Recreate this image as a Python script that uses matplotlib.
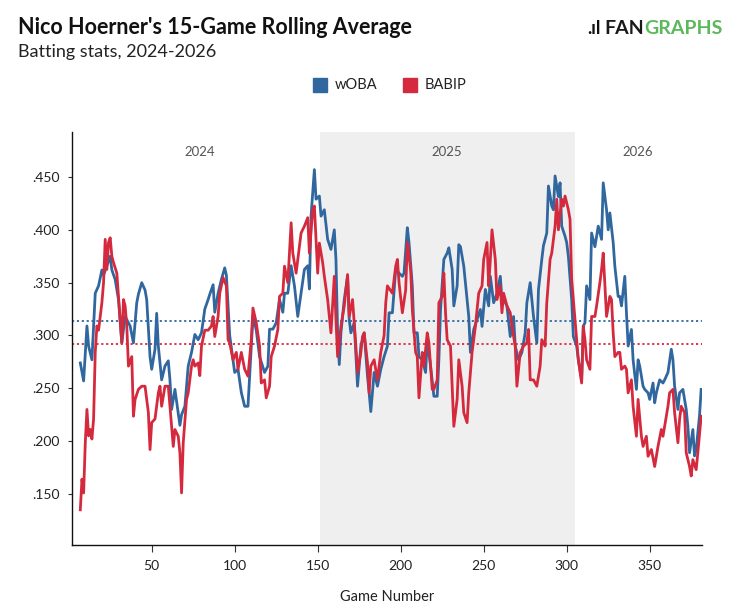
import matplotlib
matplotlib.use("Agg")
import matplotlib.pyplot as plt
from matplotlib.ticker import FuncFormatter
from matplotlib.patches import Rectangle

plt.rcParams['font.family'] = ['Lato', 'DejaVu Sans']

# ---- data ----
woba_games = [7, 9, 11, 12, 14, 16, 18, 20, 21, 23, 25, 26, 28, 30, 32, 34, 35, 37, 39, 41, 42, 44, 46, 47, 49, 50,
              52, 53, 54, 56, 58, 60, 61, 62, 64, 66, 67, 68, 70, 72, 74, 76, 78, 80, 82, 84, 85, 87, 88, 90, 92, 94,
              95, 97, 100, 102, 104, 106, 108, 109, 111, 113, 115, 118, 120, 121, 123, 125, 127, 129, 130, 132, 134,
              136, 138, 140, 142, 144, 145, 146, 148, 149, 151, 152, 154, 156, 158, 160, 161, 162, 163, 164, 166, 168,
              169, 170, 172, 174, 176, 178, 180, 181, 182, 184, 186, 188, 190, 192, 193, 195, 197, 199, 201, 202, 204,
              205, 207, 208, 210, 211, 213, 215, 216, 218, 220, 222, 223, 224, 226, 228, 229, 231, 232, 234, 235, 236,
              238, 240, 241, 242, 244, 246, 248, 249, 251, 253, 254, 256, 258, 260, 261, 263, 264, 266, 268, 269, 271,
              273, 275, 276, 278, 280, 282, 283, 285, 286, 288, 289, 291, 292, 293, 295, 296, 297, 299, 300, 301, 303,
              304, 306, 307, 309, 310, 311, 312, 314, 315, 317, 318, 319, 321, 322, 324, 325, 326, 328, 329, 331, 332,
              333, 335, 336, 337, 339, 340, 342, 343, 344, 346, 347, 349, 350, 352, 353, 354, 356, 358, 359, 361, 363,
              364, 365, 367, 368, 370, 372, 373, 374, 376, 377, 378, 380, 381]
woba = [.274, .257, .309, .290, .277, .340, .347, .362, .357, .366, .375, .362, .353, .334, .293, .318, .315, .309,
        .293, .331, .339, .350, .343, .334, .280, .268, .287, .321, .290, .258, .271, .276, .258, .230, .249, .226,
        .215, .225, .233, .271, .284, .301, .296, .3025, .325, .334, .339, .348, .322, .340, .353, .364, .357, .300,
        .265, .268, .246, .233, .233, .2615, .318, .305, .280, .265, .271, .306, .306, .312, .334, .322, .340, .340,
        .366, .347, .318, .340, .3625, .366, .344, .413, .457, .429, .432, .413, .419, .391, .3815, .400, .372,
        .3025, .2725, .3025, .334, .356, .315, .3025, .312, .252, .290, .3025, .2615, .2457, .228, .265, .252, .268,
        .280, .290, .3215, .3215, .3625, .359, .356, .359, .402, .388, .347, .3025, .3025, .280, .277, .265, .296,
        .271, .2425, .2425, .277, .3246, .372, .378, .383, .3625, .328, .347, .386, .384, .3656, .334, .318, .284,
        .3057, .315, .3246, .3086, .3436, .328, .356, .331, .340, .356, .334, .331, .328, .299, .318, .290, .277,
        .284, .3025, .331, .350, .318, .293, .3435, .372, .385, .397, .4415, .4225, .419, .451, .4315, .4445, .4035,
        .394, .388, .375, .334, .299, .290, .277, .258, .309, .312, .347, .334, .397, .384, .394, .4035, .391, .4445,
        .419, .400, .416, .388, .3656, .337, .337, .328, .356, .3215, .290, .3057, .277, .249, .277, .271, .252,
        .249, .2457, .2395, .255, .2363, .2457, .258, .255, .258, .265, .287, .277, .252, .230, .2457, .249, .230,
        .214, .189, .211, .186, .192, .224, .249]

babip_games = [7, 8, 9, 10, 11, 12, 13, 14, 15, 16, 17, 18, 20, 21, 22, 23, 24, 25, 26, 27, 29, 30, 32, 33, 34, 35,
               36, 38, 39, 40, 42, 44, 46, 48, 49, 50, 52, 54, 55, 56, 58, 60, 62, 63, 64, 66, 67, 68, 69, 71, 72, 74,
               75, 76, 78, 79, 80, 82, 84, 86, 87, 88, 90, 91, 93, 95, 96, 97, 99, 101, 102, 104, 106, 108, 110, 111,
               113, 115, 116, 118, 119, 121, 122, 124, 126, 127, 129, 130, 132, 134, 135, 137, 140, 142, 144, 145,
               147, 148, 150, 151, 153, 154, 156, 158, 160, 161, 162, 164, 166, 168, 169, 171, 173, 174, 176, 177,
               178, 180, 181, 182, 184, 186, 188, 190, 191, 192, 195, 197, 198, 199, 201, 203, 204, 206, 207, 209,
               210, 211, 213, 214, 216, 217, 219, 220, 222, 223, 225, 226, 227, 228, 230, 231, 232, 234, 235, 237,
               238, 240, 241, 243, 245, 247, 249, 250, 252, 253, 254, 255, 257, 258, 260, 261, 262, 264, 266, 267,
               269, 270, 272, 274, 276, 277, 278, 280, 282, 284, 285, 287, 288, 290, 291, 293, 294, 295, 297, 298,
               299, 301, 302, 303, 305, 306, 307, 309, 310, 311, 312, 314, 315, 317, 318, 320, 321, 322, 323, 324,
               326, 327, 328, 329, 331, 332, 333, 335, 336, 337, 339, 340, 342, 343, 345, 346, 348, 349, 351, 353,
               354, 355, 357, 358, 360, 361, 362, 364, 365, 367, 368, 369, 371, 372, 374, 375, 376, 378, 379, 381]
babip = [.135, .164, .151, .1985, .230, .205, .211, .202, .221, .284, .309, .305, .331, .350, .391, .3625, .388,
         .3925, .375, .369, .359, .337, .293, .334, .328, .309, .271, .280, .2236, .2395, .249, .252, .252, .227,
         .192, .2175, .221, .2457, .252, .233, .252, .252, .214, .195, .211, .2046, .189, .151, .1985, .2395, .2457,
         .271, .277, .271, .274, .262, .290, .305, .305, .309, .318, .299, .318, .340, .3547, .347, .296, .293, .277,
         .284, .268, .284, .268, .2615, .296, .326, .312, .290, .255, .258, .241, .252, .280, .290, .3057, .337,
         .340, .3656, .350, .4067, .378, .359, .397, .4035, .4115, .378, .419, .4225, .359, .3875, .369, .356, .334,
         .3025, .356, .315, .280, .3086, .328, .3577, .318, .334, .290, .265, .284, .299, .3025, .274, .2457, .271,
         .277, .258, .284, .300, .331, .347, .340, .3656, .372, .350, .3215, .343, .388, .362, .3246, .284, .280,
         .241, .284, .271, .3025, .293, .249, .249, .258, .331, .337, .359, .3215, .296, .290, .252, .214, .2395,
         .277, .252, .227, .2175, .2457, .284, .3086, .340, .347, .372, .388, .347, .372, .400, .372, .334, .347,
         .3215, .340, .328, .3215, .3086, .290, .252, .284, .290, .293, .3057, .258, .258, .252, .271, .296, .290,
         .331, .372, .378, .4035, .429, .400, .429, .4225, .432, .419, .410, .353, .315, .296, .277, .255, .3086,
         .296, .277, .268, .318, .318, .328, .350, .3625, .378, .347, .318, .337, .334, .3025, .280, .284, .284,
         .268, .271, .268, .2457, .258, .233, .2046, .2395, .2046, .195, .2046, .1857, .192, .176, .1857, .195,
         .211, .2046, .2236, .233, .2457, .249, .227, .1985, .2205, .233, .227, .189, .176, .167, .1825, .173, .189,
         .2236]

woba_avg = 0.314
babip_avg = 0.292
season_labels = ['2024', '2025', '2026']
season_label_x = [79, 228, 343]
season_2025_span = [151.5, 305]
x_ticks = [50, 100, 150, 200, 250, 300, 350]
y_ticks = [.150, .200, .250, .300, .350, .400, .450]

BLUE = '#31679f'
RED = '#d52a3e'

fig = plt.figure(figsize=(7.37, 6.14), dpi=100)
ax = fig.add_axes([0.0977, 0.1124, 0.8548, 0.6726])

ax.axvspan(season_2025_span[0], season_2025_span[1], color='#efefef', zorder=0, lw=0)

ax.axhline(woba_avg, color=BLUE, lw=1.3, ls=(0, (1.2, 1.5)), zorder=1)
ax.axhline(babip_avg, color=RED, lw=1.3, ls=(0, (1.2, 1.5)), zorder=1)

ax.plot(woba_games, woba, color=BLUE, lw=2.0, solid_joinstyle='round', zorder=2)
ax.plot(babip_games, babip, color=RED, lw=2.0, solid_joinstyle='round', zorder=3)

ax.set_xlim(2, 381.5)
ax.set_ylim(0.1017, 0.4926)

for lab, xv in zip(season_labels, season_label_x):
    ax.text(xv, 0.951, lab, transform=ax.get_xaxis_transform(), ha='center', va='center',
            fontsize=9.5, color='#555555')

ax.set_xticks(x_ticks)
ax.set_yticks(y_ticks)
ax.yaxis.set_major_formatter(FuncFormatter(lambda v, p: f"{v:.3f}".lstrip('0')))
ax.tick_params(axis='x', length=5, width=0.8, color='#333333', labelsize=10, labelcolor='#222222', pad=6)
ax.tick_params(axis='y', length=3, width=0.8, color='#333333', labelsize=10, labelcolor='#222222', pad=6)
for s in ['top', 'right']:
    ax.spines[s].set_visible(False)
for s in ['left', 'bottom']:
    ax.spines[s].set_color('#111111')
    ax.spines[s].set_linewidth(1.0)

ax.set_xlabel('Game Number', fontsize=10.5, color='#222222', labelpad=13)

# Title / subtitle
fig.text(0.024, 0.955, "Nico Hoerner's 15-Game Rolling Average", fontsize=15.5, fontweight='bold',
         color='#111111', ha='left', va='center')
fig.text(0.024, 0.916, "Batting stats, 2024-2026", fontsize=13, color='#222222', ha='left', va='center')

# FanGraphs logo text
fig.text(0.797, 0.953, ".ıl", fontsize=13, fontweight='bold', color='#111111', ha='left', va='center')
t1 = fig.text(0.820, 0.953, "FAN", fontsize=14, fontweight='bold', color='#1a1a1a', ha='left', va='center')
fig.canvas.draw()
bb = t1.get_window_extent()
fig.text(bb.x1 / fig.bbox.width, 0.953, "GRAPHS", fontsize=14, fontweight='bold', color='#5cb85c',
         ha='left', va='center')

# Legend
fig.patches.append(Rectangle((313 / 737, 1 - 92 / 614), 14 / 737, 14 / 614, transform=fig.transFigure,
                             color=BLUE, figure=fig))
fig.text(335 / 737, 1 - 85 / 614, "wOBA", fontsize=10.5, color='#222222', ha='left', va='center')
fig.patches.append(Rectangle((403 / 737, 1 - 92 / 614), 14 / 737, 14 / 614, transform=fig.transFigure,
                             color=RED, figure=fig))
fig.text(425 / 737, 1 - 85 / 614, "BABIP", fontsize=10.5, color='#222222', ha='left', va='center')

fig.savefig('out.png', dpi=100)
